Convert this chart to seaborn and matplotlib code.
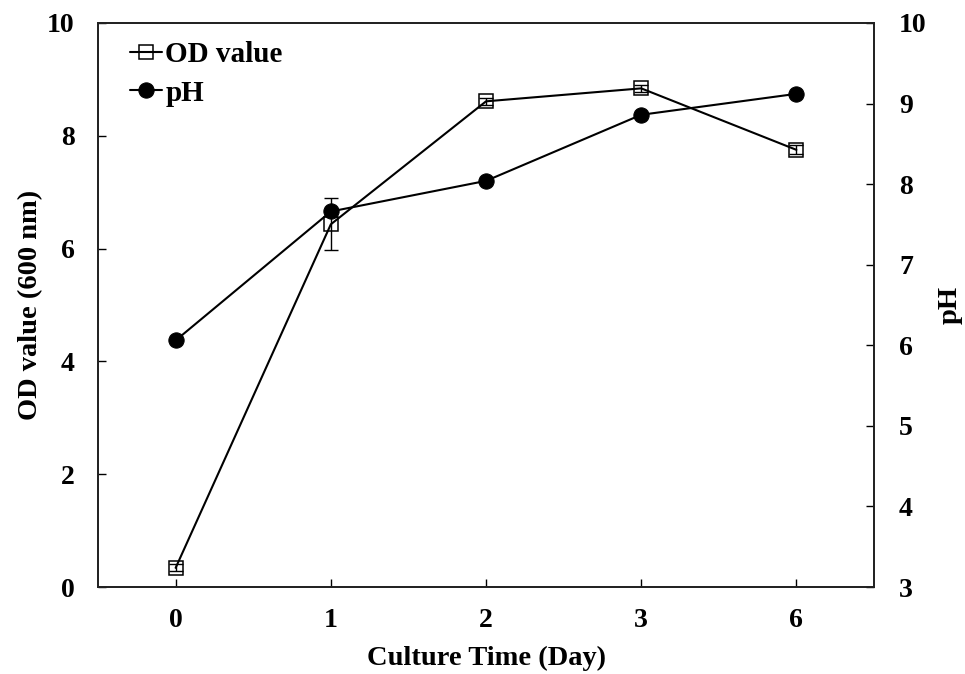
import matplotlib
matplotlib.use("Agg")
import matplotlib.pyplot as plt
import seaborn as sns
import pandas as pd
import numpy as np

days = ["0", "1", "2", "3", "6"]
od_values = [0.34, 6.43, 8.61, 8.84, 7.75]
od_err = [0.06, 0.46, 0.06, 0.06, 0.08]
ph_values = [6.06, 7.66, 8.04, 8.86, 9.12]

sns.set_theme(style="ticks")
plt.rcParams['font.family'] = ['Liberation Serif', 'DejaVu Serif']
plt.rcParams['font.weight'] = 'bold'
plt.rcParams['xtick.direction'] = 'in'
plt.rcParams['ytick.direction'] = 'in'
plt.rcParams['text.color'] = 'black'
plt.rcParams['axes.labelcolor'] = 'black'
plt.rcParams['xtick.color'] = 'black'
plt.rcParams['ytick.color'] = 'black'

pos = np.arange(len(days))
df = pd.DataFrame({"pos": pos, "od": od_values, "ph": ph_values})

fig, ax = plt.subplots(figsize=(9.65, 6.74), dpi=100)
fig.subplots_adjust(left=0.1016, right=0.9057, top=0.966, bottom=0.129)
ax2 = ax.twinx()

ax.errorbar(pos, od_values, yerr=od_err, fmt="none", ecolor="black", elinewidth=1.0, capsize=5, capthick=1.0, zorder=2)
sns.lineplot(data=df, x="pos", y="od", ax=ax, color="black", linewidth=1.5,
             marker="s", markersize=10, markerfacecolor="none", markeredgecolor="black",
             markeredgewidth=1.1, label="OD value", legend=False, zorder=3)
sns.lineplot(data=df, x="pos", y="ph", ax=ax2, color="black", linewidth=1.5,
             marker="o", markersize=11, markerfacecolor="black", markeredgecolor="black",
             label="pH", legend=False, zorder=3)

ax.set_xlim(-0.5, 4.5)
ax.set_ylim(0, 10)
ax2.set_ylim(3, 10)
ax.set_xticks(pos)
ax.set_xticklabels(days)
ax.set_yticks(np.arange(0, 11, 2))
ax2.set_yticks(np.arange(3, 11, 1))

for a in (ax, ax2):
    a.tick_params(direction="in", length=6, width=1.0, labelsize=20, colors="black")
    for lab in a.get_xticklabels() + a.get_yticklabels():
        lab.set_fontweight("bold")
    for s in a.spines.values():
        s.set_visible(True)
        s.set_linewidth(1.3)
        s.set_color("#222222")
ax.tick_params(axis="x", pad=15)
ax.tick_params(axis="y", pad=17)
ax2.tick_params(axis="y", pad=18)

ax.set_xlabel("Culture Time (Day)", fontsize=20.5, fontweight="bold", labelpad=9)
ax.set_ylabel("OD value (600 nm)", fontsize=20.5, fontweight="bold", labelpad=3)
ax2.set_ylabel("pH", fontsize=20.5, fontweight="bold", labelpad=8)

h1, l1 = ax.get_legend_handles_labels()
h2, l2 = ax2.get_legend_handles_labels()
leg = ax2.legend(h1 + h2, l1 + l2, loc="upper left", bbox_to_anchor=(0.041, 0.968),
                 frameon=False, fontsize=21, handlelength=1.1, handletextpad=0.12,
                 labelspacing=0.4, borderaxespad=0, borderpad=0)
for t in leg.get_texts():
    t.set_fontweight("bold")

fig.savefig("out.png", dpi=100, facecolor="white")
